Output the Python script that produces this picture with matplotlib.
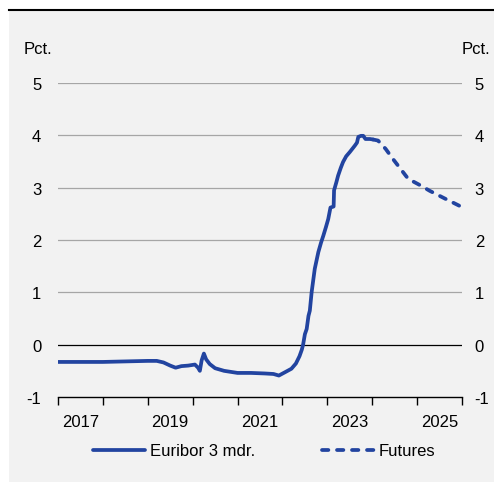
import matplotlib
matplotlib.use('Agg')
import matplotlib.pyplot as plt
from matplotlib.patches import Rectangle
from matplotlib.lines import Line2D

plt.rcParams['font.family'] = ['Liberation Sans', 'DejaVu Sans']
plt.rcParams['font.size'] = 12

# --- data (decimal years, pct.) ---
euribor_t = [2017.0, 2017.5, 2018.0, 2018.5, 2019.0, 2019.2, 2019.35, 2019.5, 2019.62,
             2019.75, 2019.9, 2020.05, 2020.12, 2020.16, 2020.2, 2020.25, 2020.3, 2020.38,
             2020.5, 2020.7, 2021.0, 2021.3, 2021.6, 2021.8, 2021.92, 2022.05, 2022.2,
             2022.3, 2022.38, 2022.43, 2022.46, 2022.5, 2022.54, 2022.58, 2022.61, 2022.65,
             2022.72, 2022.8, 2022.86, 2022.91, 2022.97, 2023.02, 2023.07, 2023.14, 2023.15,
             2023.2, 2023.24, 2023.3, 2023.35, 2023.42, 2023.5, 2023.61, 2023.66, 2023.69,
             2023.75, 2023.8, 2023.85, 2023.95, 2024.02]
euribor_v = [-0.33, -0.33, -0.33, -0.32, -0.31, -0.31, -0.34, -0.40, -0.44,
             -0.41, -0.40, -0.38, -0.44, -0.50, -0.30, -0.17, -0.28, -0.37,
             -0.45, -0.50, -0.54, -0.54, -0.55, -0.56, -0.59, -0.53, -0.46,
             -0.36, -0.22, -0.10, 0.0, 0.20, 0.30, 0.55, 0.65, 1.0,
             1.45, 1.77, 1.95, 2.08, 2.25, 2.40, 2.62, 2.64, 2.95,
             3.10, 3.23, 3.38, 3.49, 3.60, 3.68, 3.80, 3.86, 3.97,
             3.99, 3.99, 3.93, 3.93, 3.92]

futures_t = [2024.02, 2024.13, 2024.3, 2024.46, 2024.63, 2024.8, 2025.06, 2025.28, 2025.6, 2025.95]
futures_v = [3.92, 3.90, 3.74, 3.55, 3.36, 3.17, 3.05, 2.94, 2.80, 2.65]

year_ticks = list(range(2017, 2027))
year_labels = ['2017', '', '2019', '', '2021', '', '2023', '', '2025']

col = '#2244a0'
lw = 2.7

#---  figure and panel  ---
fig = plt.figure(figsize=(4.94, 4.85), dpi=100)
fig.patches.append(Rectangle((9/494, 2/485), 1 - 9/494, 471/485, transform=fig.transFigure,
                             facecolor='#f2f2f2', edgecolor='none', zorder=-5))
fig.lines.append(Line2D([9/494, 1], [1 - 11/485, 1 - 11/485], transform=fig.transFigure,
                        color='black', lw=1.5, zorder=-4))

ax = fig.add_axes([58/494, 1 - 398/485, 404/494, 314/485])
ax.set_facecolor('none')
ax.set_xlim(2017, 2026)
ax.set_ylim(-1, 5)

for y in [1, 2, 3, 4, 5]:
    ax.axhline(y, color='#a6a6a6', lw=0.9, zorder=1)
ax.axhline(0, color='black', lw=0.9, zorder=1)

ax.plot(euribor_t, euribor_v, color=col, lw=lw, label='Euribor 3 mdr.', zorder=3,
        solid_capstyle='round', solid_joinstyle='round')
ax.plot(futures_t, futures_v, color=col, lw=lw, ls=(0, (1.7, 2.3)), label='Futures', zorder=3,
        dash_capstyle='round')

#---  axes styling  ---
for s in ['top', 'left', 'right']:
    ax.spines[s].set_visible(False)
ax.spines['bottom'].set_linewidth(1.0)

ax.set_xticks(year_ticks)
ax.set_xticklabels([])
ax.tick_params(axis='x', which='major', direction='out', length=6, width=1.0)
ax.set_xticks([y + 0.5 for y in range(2017, 2026)], minor=True)
ax.set_xticklabels(year_labels, minor=True)
ax.tick_params(axis='x', which='minor', length=0, pad=12)

ax.set_yticks(range(-1, 6))
ax.set_yticklabels([str(v) for v in range(-1, 6)])
ax.tick_params(axis='y', which='both', left=False, right=False, length=0,
               labelleft=True, labelright=True, pad=12)
# right labels sit a little closer to the axes than the left ones
for t in ax.yaxis.get_major_ticks():
    t.label2.set_transform(t.label2.get_transform() +
                           matplotlib.transforms.ScaledTranslation(-4/100, 0, fig.dpi_scale_trans))

fig.text(24/494, 1 - 50/485, 'Pct.', ha='left', va='center')
fig.text(490/494, 1 - 50/485, 'Pct.', ha='right', va='center')

#---  legend  ---
fig.legend(loc='center', bbox_to_anchor=(0.535, 1 - 452/485), ncol=2, frameon=False,
           handlelength=3.1, handletextpad=0.3, columnspacing=4.0)

plt.savefig('out.png', dpi=100)
